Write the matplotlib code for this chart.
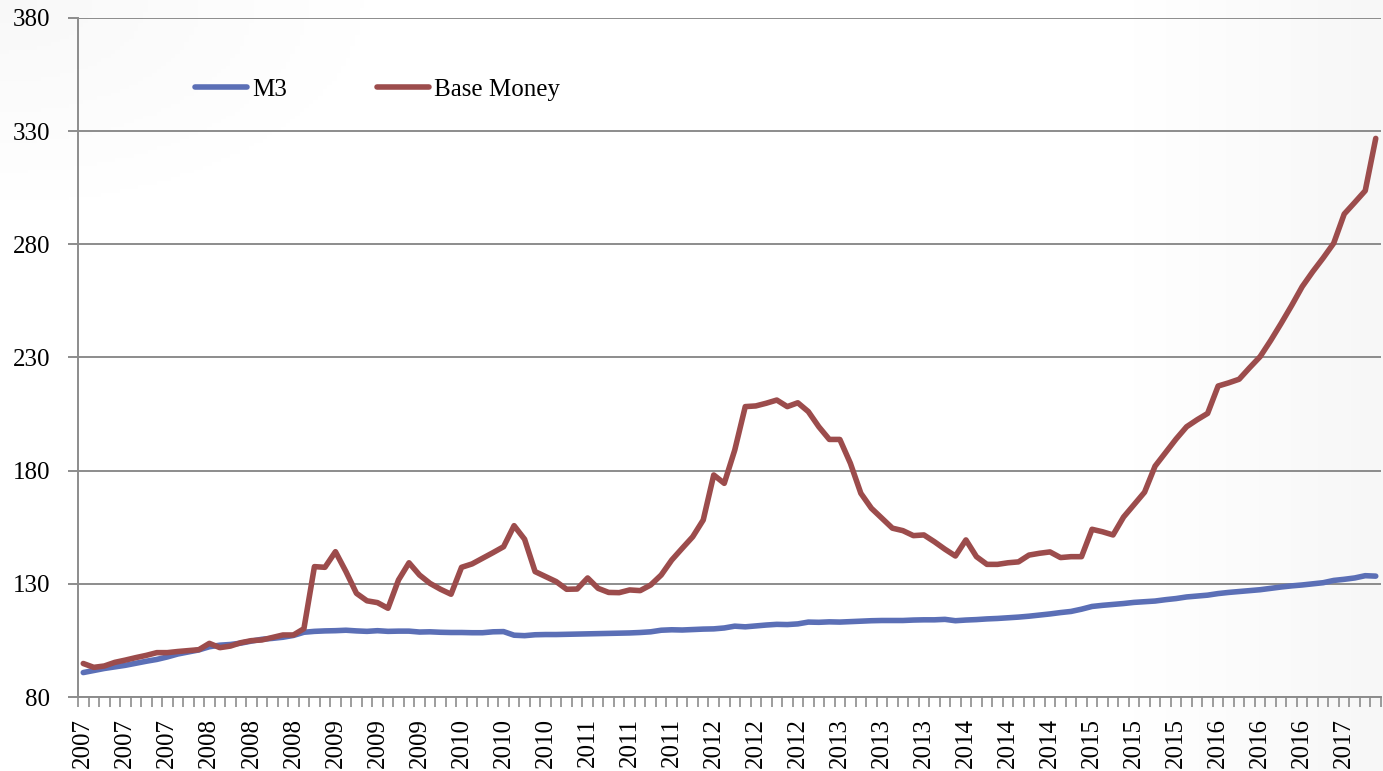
import numpy as np
import matplotlib
matplotlib.use("Agg")
import matplotlib.pyplot as plt

plt.rcParams['font.family'] = ['Liberation Serif', 'DejaVu Serif']

# monthly data, Jan 2007 .. Apr 2017 (index 2007.01 = 100 roughly)
m3 = [90.8, 91.7, 92.6, 93.3, 94.0, 94.9, 95.8, 96.6, 97.7, 99.0,
      99.9, 100.8, 102.2, 102.9, 103.2, 103.8, 104.7, 105.5, 105.9, 106.4,
      107.2, 108.6, 109.0, 109.2, 109.3, 109.5, 109.2, 109.0, 109.3, 109.0,
      109.1, 109.1, 108.7, 108.8, 108.6, 108.5, 108.5, 108.4, 108.4, 108.8,
      108.9, 107.3, 107.1, 107.5, 107.6, 107.6, 107.7, 107.8, 107.9, 108.0,
      108.1, 108.2, 108.3, 108.5, 108.8, 109.5, 109.7, 109.6, 109.8, 110.0,
      110.1, 110.5, 111.3, 111.0, 111.4, 111.8, 112.1, 112.0, 112.3, 113.1,
      113.0, 113.2, 113.1, 113.3, 113.5, 113.7, 113.8, 113.8, 113.8, 114.0,
      114.1, 114.1, 114.3, 113.7, 114.0, 114.2, 114.5, 114.7, 115.0, 115.3,
      115.7, 116.2, 116.7, 117.3, 117.8, 118.8, 120.0, 120.5, 120.9, 121.3,
      121.8, 122.1, 122.4, 123.0, 123.5, 124.2, 124.6, 125.0, 125.7, 126.2,
      126.6, 127.0, 127.4, 128.0, 128.6, 129.1, 129.5, 130.0, 130.5, 131.5,
      132.0, 132.6, 133.6, 133.4]

base_money = [94.8, 93.1, 93.7, 95.3, 96.3, 97.4, 98.4, 99.6, 99.6, 100.1,
              100.5, 100.9, 103.7, 101.8, 102.5, 104.0, 104.9, 105.2, 106.3, 107.4,
              107.4, 110.2, 137.6, 137.3, 144.2, 135.4, 125.8, 122.5, 121.7, 119.2,
              131.7, 139.3, 133.9, 130.2, 127.6, 125.4, 137.3, 138.8, 141.3, 143.8,
              146.4, 155.7, 149.7, 135.4, 133.2, 131.0, 127.6, 127.7, 132.6, 128.0,
              126.2, 126.1, 127.3, 127.0, 129.5, 133.9, 140.5, 145.7, 150.8, 158.2,
              178.1, 174.4, 189.1, 208.3, 208.6, 209.8, 211.2, 208.3, 210.0, 206.1,
              199.4, 193.8, 193.8, 183.3, 170.0, 163.4, 159.0, 154.6, 153.5, 151.3,
              151.6, 148.6, 145.3, 142.3, 149.4, 142.0, 138.6, 138.6, 139.3, 139.7,
              142.7, 143.5, 144.1, 141.6, 142.0, 142.0, 154.1, 153.0, 151.6, 159.5,
              165.0, 170.5, 182.0, 188.0, 194.0, 199.4, 202.5, 205.3, 217.4, 218.8,
              220.4, 225.5, 230.4, 237.5, 245.1, 253.0, 261.3, 267.9, 274.0, 280.5,
              293.4, 298.5, 303.7, 326.8]

start_year = 2007
months_per_label = 4

n = len(m3)
x = np.arange(n)
# one label every 4 months, showing the year
label_pos = x[::months_per_label]
label_txt = [str(start_year + p // 12) for p in label_pos]

fig = plt.figure(figsize=(13.83, 7.71), dpi=100)

# faint gradient background like the slide
bg = fig.add_axes([0, 0, 1, 1], zorder=-10)
gx, gy = np.meshgrid(np.linspace(0, 1, 300), np.linspace(0, 1, 200))
shade = 1 - 0.035 * np.clip((gx - 0.8) / 0.2, 0, 1) - 0.03 * np.clip(1 - np.hypot(gx, gy) / 0.3, 0, 1)
bg.imshow(shade, cmap='gray', vmin=0, vmax=1, aspect='auto', extent=[0, 1, 0, 1], origin='upper')
bg.axis('off')

ax = fig.add_axes([78 / 1383, 74 / 771, 1303 / 1383, 679 / 771])
ax.patch.set_alpha(0)

blue = '#5b6fb6'
red = '#9c4c4c'
ax.plot(x, m3, color=blue, lw=4.0, label='M3', solid_capstyle='round', solid_joinstyle='round')
ax.plot(x, base_money, color=red, lw=4.0, label='Base Money', solid_capstyle='round', solid_joinstyle='round')

ax.set_xlim(-0.5, n - 0.5)
ax.set_ylim(80, 380)
ax.set_yticks(range(80, 381, 50))
ax.yaxis.grid(True, color='#8c8c8c', lw=1.4)
ax.set_axisbelow(True)

ax.set_xticks(label_pos)
ax.set_xticklabels(label_txt, rotation=90, fontsize=18)
ax.set_xticks(np.arange(-0.5, n, 1), minor=True)
ax.tick_params(axis='x', which='major', length=0, pad=15)
ax.tick_params(axis='x', which='minor', length=7, width=1.2, color='#8c8c8c')
ax.tick_params(axis='y', length=7, width=1.4, color='#8c8c8c', pad=13, labelsize=18)

for s in ['top', 'right']:
    ax.spines[s].set_visible(False)
for s in ['left', 'bottom']:
    ax.spines[s].set_color('#8c8c8c')
    ax.spines[s].set_linewidth(1.4)

ax.legend(loc='center left', bbox_to_anchor=(0.0895, 0.894), ncol=2, frameon=False,
          fontsize=18, borderpad=0, borderaxespad=0, handlelength=2.1,
          handletextpad=0.2, columnspacing=3.6)

fig.savefig('out.png', dpi=100)
